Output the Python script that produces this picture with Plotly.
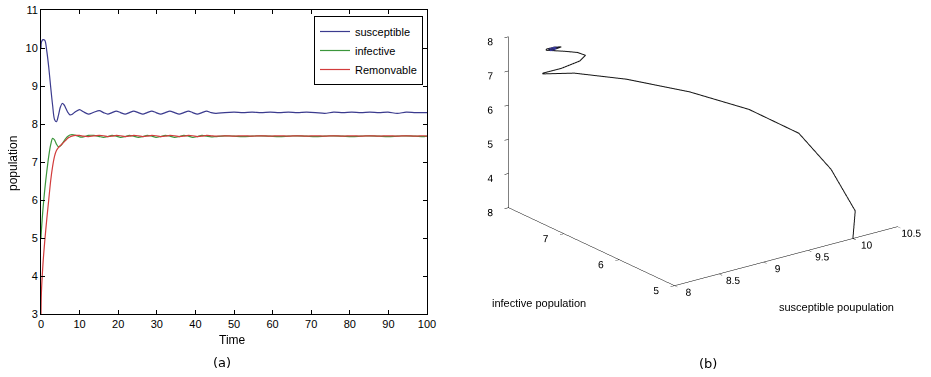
import plotly.graph_objects as go

# ---------------- data ----------------
time = [0, 0.1, 0.5, 1, 1.5, 2, 2.5, 3, 3.5, 4, 4.5, 5, 5.5, 6, 6.5, 7, 7.5, 8,
        9, 10, 11, 12.3, 13.7, 15.1, 16.2, 17.3, 18.4, 19.5, 20.6, 21.8, 22.9,
        24.0, 25.2, 26.4, 27.5, 28.7, 29.8, 31.0, 32.2, 33.4, 34.6, 35.8, 37.0,
        38.2, 39.3, 40.5, 41.7, 42.9, 44.1, 45.3, 47.6, 50.0, 52.3, 54.7, 57.0,
        59.4, 61.7, 64.1, 66.4, 68.8, 71.1, 73.5, 75.8, 78.2, 80.5, 82.9, 85.2,
        87.6, 89.9, 92.3, 94.6, 97.0, 99.3, 100]

susceptible = [10.00, 10.15, 10.22, 10.20, 9.92, 9.50, 8.98, 8.50, 8.12, 8.06,
               8.22, 8.44, 8.54, 8.50, 8.40, 8.30, 8.24, 8.25,
               8.33, 8.38, 8.32, 8.26, 8.31, 8.35, 8.30, 8.26, 8.30, 8.34, 8.30,
               8.26, 8.30, 8.34, 8.30, 8.26, 8.30, 8.34, 8.30, 8.26, 8.30, 8.34,
               8.30, 8.26, 8.30, 8.34, 8.30, 8.26, 8.30, 8.34, 8.30, 8.28,
               8.30, 8.31, 8.30, 8.31, 8.30, 8.31, 8.30, 8.31, 8.30, 8.31, 8.30,
               8.28, 8.31, 8.30, 8.31, 8.30, 8.31, 8.30, 8.31, 8.28, 8.31, 8.30,
               8.30, 8.30]

infective = [5.00, 5.20, 5.75, 6.30, 6.75, 7.15, 7.45, 7.62, 7.58, 7.47,
             7.40, 7.42, 7.48, 7.56, 7.63, 7.68, 7.71, 7.72,
             7.70, 7.66, 7.66, 7.70, 7.70, 7.67, 7.65, 7.67, 7.70, 7.68, 7.65,
             7.67, 7.70, 7.68, 7.65, 7.67, 7.70, 7.68, 7.65, 7.67, 7.70, 7.68,
             7.65, 7.67, 7.70, 7.68, 7.65, 7.67, 7.70, 7.68, 7.66, 7.67,
             7.69, 7.68, 7.67, 7.68, 7.69, 7.68, 7.67, 7.68, 7.69, 7.68, 7.67,
             7.68, 7.69, 7.68, 7.67, 7.68, 7.69, 7.68, 7.67, 7.68, 7.69, 7.68,
             7.67, 7.68]

removable = [3.00, 3.55, 4.30, 4.95, 5.50, 6.00, 6.50, 6.88, 7.15, 7.30,
             7.38, 7.43, 7.48, 7.53, 7.58, 7.63, 7.66, 7.68,
             7.70, 7.70, 7.68, 7.67, 7.69, 7.70, 7.69, 7.67, 7.68, 7.70, 7.69,
             7.67, 7.68, 7.70, 7.69, 7.67, 7.68, 7.70, 7.69, 7.67, 7.68, 7.70,
             7.69, 7.67, 7.68, 7.70, 7.69, 7.67, 7.68, 7.70, 7.69, 7.68,
             7.69, 7.68, 7.69, 7.68, 7.69, 7.68, 7.69, 7.68, 7.69, 7.68, 7.69,
             7.68, 7.69, 7.68, 7.69, 7.68, 7.69, 7.68, 7.69, 7.68, 7.69, 7.68,
             7.69, 7.68]

series_names = ["susceptible", "infective", "Remonvable"]

time_ticks = [0, 10, 20, 30, 40, 50, 60, 70, 80, 90, 100]
pop_ticks = [3, 4, 5, 6, 7, 8, 9, 10, 11]
s_ticks = [8, 8.5, 9, 9.5, 10, 10.5]
i_ticks = [5, 6, 7, 8]
r_ticks = [3, 4, 5, 6, 7, 8]

# ---------------- layout helpers ----------------
W, H = 931, 377
FONT = "Liberation Sans, Arial, sans-serif"


def fx(p):
    return p / W


def fy(p):
    return 1 - p / H


fig = go.Figure()

colors = ["#3b3b8e", "#3c963c", "#d23c3c"]
for name, vals, col in zip(series_names, [susceptible, infective, removable], colors):
    fig.add_trace(go.Scatter(
        x=time, y=vals, name=name, mode="lines",
        line=dict(color=col, width=1.2, shape="spline", smoothing=0.8),
        xaxis="x", yaxis="y", hoverinfo="skip"))

# 3D trajectory (S, I, R)
fig.add_trace(go.Scatter3d(
    x=susceptible, y=infective, z=removable, mode="lines",
    line=dict(color="#151515", width=2), showlegend=False,
    hoverinfo="skip", scene="scene"))
tail = [k for k, t in enumerate(time) if t >= 12]
fig.add_trace(go.Scatter3d(
    x=[susceptible[k] for k in tail], y=[infective[k] for k in tail],
    z=[removable[k] for k in tail], mode="lines",
    line=dict(color="#3a3aa0", width=3), showlegend=False,
    hoverinfo="skip", scene="scene"))

axis2d = dict(showline=True, linecolor="black", linewidth=1, mirror="ticks",
              ticks="inside", ticklen=4, tickcolor="black", showgrid=False,
              zeroline=False, automargin=False,
              tickfont=dict(family=FONT, size=11, color="black"))

ax3 = dict(showbackground=False, showgrid=False, zeroline=False,
           showspikes=False, showline=True, linecolor="black", linewidth=1,
           ticks="outside", ticklen=5, tickcolor="black", tickangle=0,
           tickfont=dict(family=FONT, size=11, color="black"),
           title=dict(text=""))

# camera: view direction and look-at point (scene units)
view_dir = (-0.562, -0.749, 0.353)
center = (-0.017, 0.013, -0.322)
dist = 2.0
eye = dict(x=center[0] + view_dir[0] * dist,
           y=center[1] + view_dir[1] * dist,
           z=center[2] + view_dir[2] * dist)

fig.update_layout(
    width=W, height=H, margin=dict(l=0, r=0, t=0, b=0, pad=0, autoexpand=False),
    paper_bgcolor="white", plot_bgcolor="white",
    font=dict(family=FONT, size=11, color="black"),
    xaxis=dict(domain=[fx(41), fx(427)], range=[0, 100], tickvals=time_ticks, **axis2d),
    yaxis=dict(domain=[fy(314), fy(10)], range=[3, 11], tickvals=pop_ticks, **axis2d),
    legend=dict(x=fx(423), y=fy(16), xanchor="right", yanchor="top",
                bgcolor="white", bordercolor="black", borderwidth=1,
                font=dict(family=FONT, size=11, color="black"),
                tracegroupgap=0),
    scene=dict(
        domain=dict(x=[0.5, 1.0], y=[0.0, 1.0]),
        aspectmode="manual", aspectratio=dict(x=1.479, y=1.467, z=0.969),
        camera=dict(eye=eye, up=dict(x=0, y=0, z=1),
                    center=dict(x=center[0], y=center[1], z=center[2]),
                    projection=dict(type="orthographic")),
        xaxis=dict(range=[8, 10.5], tickvals=s_ticks, **ax3),
        yaxis=dict(range=[5, 8], tickvals=i_ticks, **ax3),
        zaxis=dict(range=[2.999, 8], tickvals=r_ticks, **ax3),
        bgcolor="white"),
    showlegend=True,
    annotations=[
        dict(text="Time", x=fx(232), y=fy(340)),
        dict(text="population", x=fx(13), y=fy(164), textangle=-90),
        dict(text="(a)", x=fx(222), y=fy(362),
             font=dict(family="DejaVu Sans", size=13)),
        dict(text="(b)", x=fx(708), y=fy(363),
             font=dict(family="DejaVu Sans", size=13)),
        dict(text="infective population", x=fx(539), y=fy(303),
             font=dict(size=11)),
        dict(text="susceptible poupulation", x=fx(836), y=fy(307),
             font=dict(size=11)),
    ],
)
fig.update_annotations(xref="paper", yref="paper", showarrow=False,
                       xanchor="center", yanchor="middle")
for a in fig.layout.annotations[:2]:
    a.font = dict(size=12)

fig.write_html("out.html", config=dict(displayModeBar=False),
               post_script="document.body.style.margin='0px';")
